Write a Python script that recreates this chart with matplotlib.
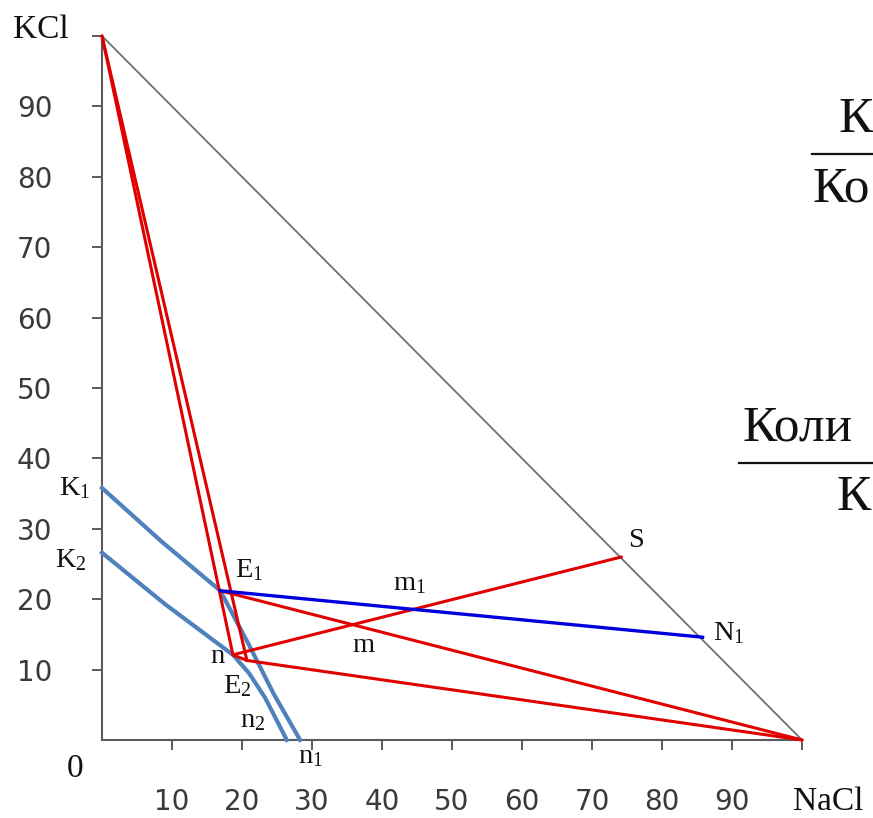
import matplotlib
matplotlib.use('Agg')
import matplotlib.pyplot as plt
from matplotlib.lines import Line2D

W, H = 873, 818
DPI = 100

plt.rcParams['mathtext.fontset'] = 'custom'
plt.rcParams['mathtext.rm'] = 'Liberation Serif'
plt.rcParams['mathtext.it'] = 'Liberation Serif'

# ---- data (x = % NaCl, y = % KCl) ----
KCl_vertex = (0, 100)
NaCl_vertex = (100, 0)
E1 = (16.9, 21.2)
E2 = (20.7, 11.3)
n_pt = (18.7, 12.1)
S = (74.2, 26.0)
N1 = (85.8, 14.6)

# solubility isotherms K1-E1-n1 and K2-E2-n2
K1_x = [0, 8.5, 16.9, 21.0, 24.5, 28.3]
K1_y = [35.8, 28.2, 21.2, 13.5, 6.6, 0]
K2_x = [0, 9.0, 18.7, 21.0, 23.3, 26.4]
K2_y = [26.6, 19.3, 12.1, 9.5, 6.0, 0]

tick_values = [10, 20, 30, 40, 50, 60, 70, 80, 90, 100]
tick_labels = ['10', '20', '30', '40', '50', '60', '70', '80', '90', '']

red_segments = [(KCl_vertex, n_pt), (KCl_vertex, E2), (E1, NaCl_vertex),
                (n_pt, S), (E2, NaCl_vertex), (n_pt, E2)]

SERIF = 'Liberation Serif'

fig = plt.figure(figsize=(W / DPI, H / DPI), dpi=DPI)
fig.patch.set_facecolor('white')
ax = fig.add_axes([102 / W, 1 - 740 / H, 700 / W, 704 / H])
ax.set_xlim(0, 100)
ax.set_ylim(0, 100)
ax.set_facecolor('none')

for sp in ['top', 'right']:
    ax.spines[sp].set_visible(False)
for sp in ['left', 'bottom']:
    ax.spines[sp].set_color('#5a5a5a')
    ax.spines[sp].set_linewidth(1.5)

ax.set_xticks(tick_values)
ax.set_xticklabels(tick_labels)
ax.set_yticks(tick_values)
ax.set_yticklabels(tick_labels)
ax.tick_params(axis='both', length=7.2, width=1.4, color='#5a5a5a',
               labelcolor='#3a3a3a', labelsize=20)
ax.tick_params(axis='x', pad=27.5)
ax.tick_params(axis='y', pad=28.5)
for lab in ax.get_xticklabels() + ax.get_yticklabels():
    lab.set_family('DejaVu Sans')

# hypotenuse
ax.plot([KCl_vertex[0], NaCl_vertex[0]], [KCl_vertex[1], NaCl_vertex[1]],
        color='#707070', lw=1.3, clip_on=False, zorder=2)

# isotherms
ax.plot(K1_x, K1_y, color='#4f81bd', lw=3.0, clip_on=False, zorder=3,
        solid_joinstyle='round')
ax.plot(K2_x, K2_y, color='#4f81bd', lw=3.0, clip_on=False, zorder=3,
        solid_joinstyle='round')

# red construction lines
for a, b in red_segments:
    ax.plot([a[0], b[0]], [a[1], b[1]], color='#e00000', lw=2.2,
            clip_on=False, zorder=4, solid_capstyle='round')

# blue tie line E1-N1
ax.plot([E1[0], N1[0]], [E1[1], N1[1]], color='#0000dd', lw=2.4,
        clip_on=False, zorder=5)


def ftext(x, y, s, size):
    fig.text(x / W, 1 - y / H, s, fontsize=size, family=SERIF,
             ha='left', va='baseline', color='#111111')


def label(x, y, base, sub=None, size=20.5):
    if sub is None:
        ftext(x, y, base, size)
    else:
        ftext(x, y, r'$\mathrm{%s}_{\mathrm{%s}}$' % (base, sub), size)


label(13, 38, 'KCl', size=24)
label(793, 810, 'NaCl', size=24)
label(67, 777, '0', size=24)
label(59, 495, 'K', '1')
label(55, 567, 'K', '2')
label(235, 577, 'E', '1')
label(210, 663, 'n')
label(223, 693, 'E', '2')
label(240, 727, 'n', '2')
label(298, 763, 'n', '1')
label(393, 590, 'm', '1')
label(352, 652, 'm')
label(628, 547, 'S')
label(713, 640, 'N', '1')

# fractions at the right edge (only the part that fits in the picture)
ftext(838, 132, 'К', 37)
ftext(812, 202, 'Ко', 37)
ftext(742, 440, 'Коли', 37)
ftext(836, 510, 'К', 37)
fig.add_artist(Line2D([812 / W, 1.0], [1 - 154 / H, 1 - 154 / H],
                      color='#111111', lw=1.6, transform=fig.transFigure))
fig.add_artist(Line2D([739 / W, 1.0], [1 - 463 / H, 1 - 463 / H],
                      color='#111111', lw=1.6, transform=fig.transFigure))

fig.savefig('out.png', dpi=DPI, facecolor='white')
